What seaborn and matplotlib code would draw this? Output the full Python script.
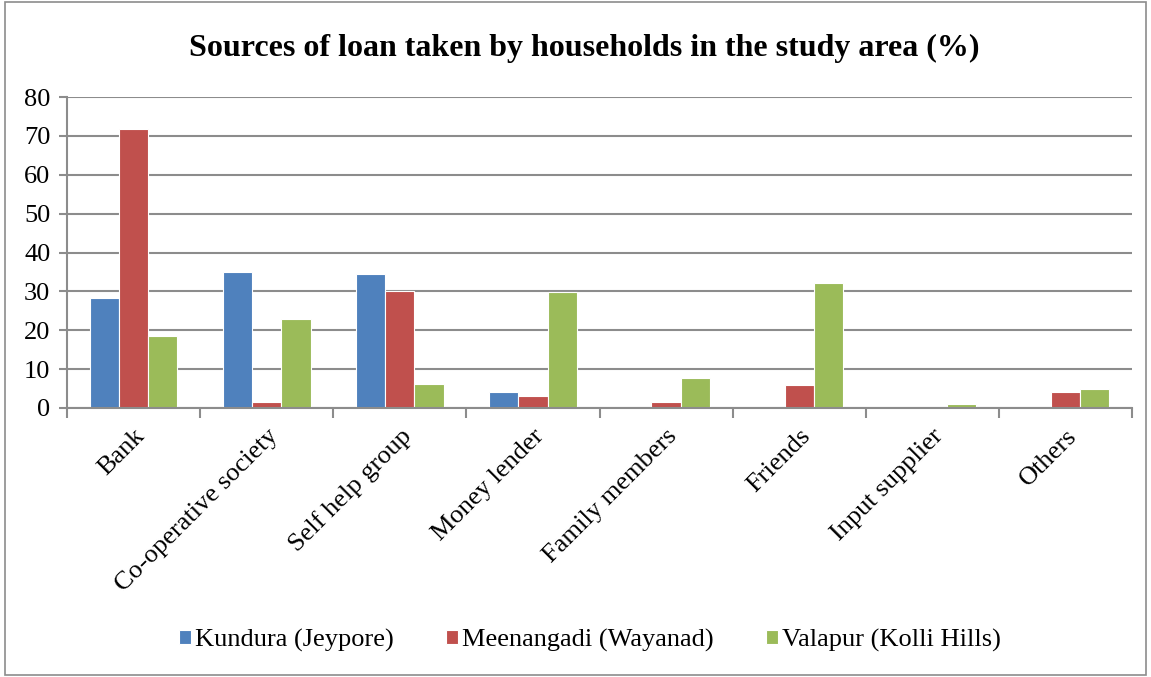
import pandas as pd
import matplotlib.pyplot as plt
import seaborn as sns
from matplotlib.patches import Rectangle

# ---------------- DATA ---------------- #

sources = ["Bank", "Co-operative society", "Self help group", "Money lender",
           "Family members", "Friends", "Input supplier", "Others"]
kundura = [28.3, 34.9, 34.5, 4.1, 0.0, 0.3, 0.0, 0.0]
meenangadi = [71.7, 1.5, 30.1, 3.0, 1.5, 5.9, 0.0, 4.1]
valapur = [18.5, 22.8, 6.2, 29.9, 7.7, 32.1, 1.0, 4.8]
series_names = ["Kundura (Jeypore)", "Meenangadi (Wayanad)", "Valapur (Kolli Hills)"]
colors = ["#4F81BD", "#C0504D", "#9BBB59"]

df = pd.DataFrame({
    "source": sources * 3,
    "site": [series_names[0]] * 8 + [series_names[1]] * 8 + [series_names[2]] * 8,
    "value": kundura + meenangadi + valapur,
})

# ---------------- PLOT ---------------- #

sns.set_style("white")
plt.rcParams['font.family'] = ['Liberation Serif', 'DejaVu Serif']
plt.rcParams['text.color'] = 'black'
plt.rcParams['xtick.color'] = 'black'
plt.rcParams['ytick.color'] = 'black'

fig = plt.figure(figsize=(11.51, 6.77), dpi=100)
ax = fig.add_axes([67 / 1151, 1 - 408 / 677, 1065 / 1151, 311 / 677])

sns.barplot(data=df, x="source", y="value", hue="site", palette=colors,
            width=0.66, gap=0, edgecolor="white", linewidth=0.8,
            saturation=1, ax=ax, legend=True)

ax.set_ylim(0, 80)
ax.set_xlim(-0.5, len(sources) - 0.5)
ax.set_yticks(range(0, 81, 10))
ax.yaxis.grid(True, color="#8c8c8c", linewidth=1.5)
ax.set_axisbelow(True)
ax.set_xlabel("")
ax.set_ylabel("")

for side in ["top", "right"]:
    ax.spines[side].set_visible(False)
for side in ["left", "bottom"]:
    ax.spines[side].set_color("#8c8c8c")
    ax.spines[side].set_linewidth(1.5)

ax.tick_params(axis="y", labelsize=19, length=6, width=1.5, color="#8c8c8c",
               labelcolor="black", left=True, pad=6)
ax.set_xticks(range(len(sources)))
ax.set_xticklabels(sources, rotation=45, ha="right", rotation_mode="anchor", fontsize=19)
ax.tick_params(axis="x", which="major", length=0, pad=12, labelcolor="black")
ax.set_xticks([i - 0.5 for i in range(len(sources) + 1)], minor=True)
ax.tick_params(axis="x", which="minor", length=7, width=1.5, color="#8c8c8c", bottom=True)

fig.suptitle("Sources of loan taken by households in the study area (%)",
             fontsize=23, fontweight="bold", color="black",
             x=584 / 1151, y=1 - 48 / 677, va="center")

handles, labels = ax.get_legend_handles_labels()
ax.legend_.remove()
fig.legend(handles, labels, loc="center", bbox_to_anchor=(590 / 1151, 1 - 640 / 677),
           ncol=3, frameon=False, fontsize=19, handlelength=0.45, handleheight=0.45,
           handletextpad=0.15, columnspacing=2.0)

fig.patches.append(Rectangle((0.004, 0.003), 0.992, 0.994, transform=fig.transFigure,
                             fill=False, edgecolor="#8c8c8c", linewidth=1.2))

fig.savefig("out.png", dpi=100)
